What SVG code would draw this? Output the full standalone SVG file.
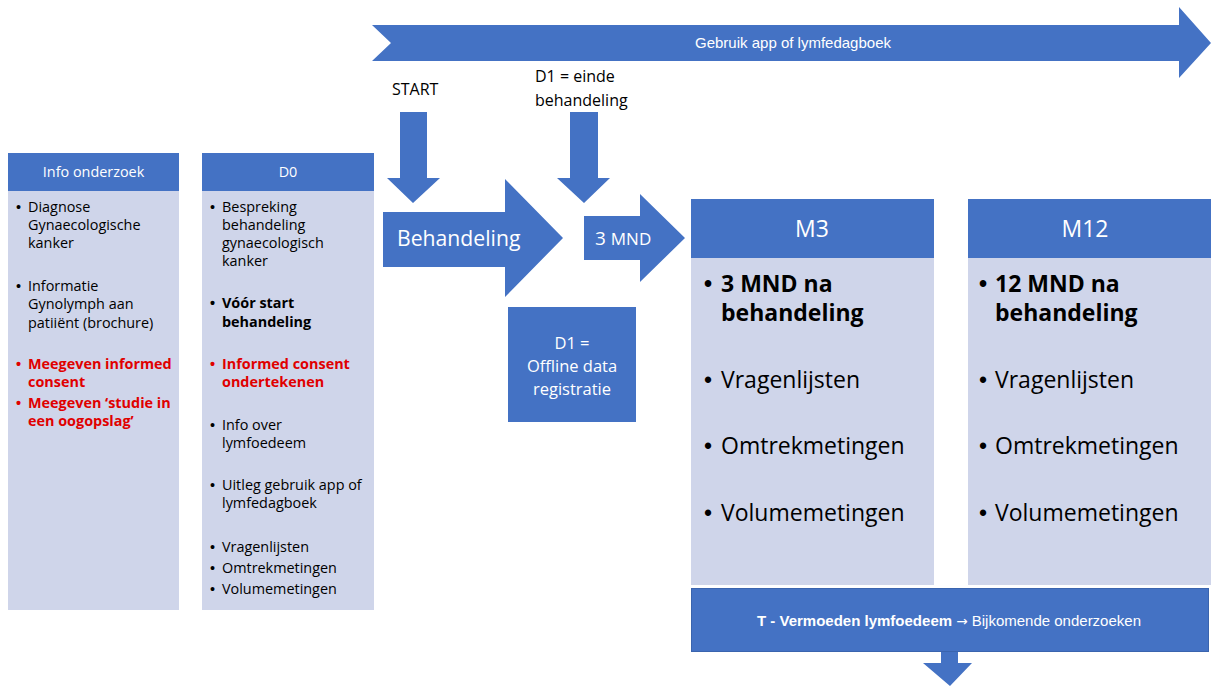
<svg xmlns="http://www.w3.org/2000/svg" width="1211" height="686" viewBox="0 0 1211 686">
<style>
.blue{fill:#4472C4}
.body{fill:#CFD5EA}
.t{font-family:"Open Sans",Lato,"Liberation Sans",sans-serif;fill:#000}
.s{font-size:14.4px}
.w{fill:#fff}
.r{fill:#E00000;font-weight:bold}
.b{font-weight:bold}
.d{font-family:"Liberation Sans",Arial,sans-serif}
.a{font-family:"Liberation Sans",Arial,sans-serif;fill:#fff}
.big{font-size:23px}
</style>
<rect width="1211" height="686" fill="#fff"/>
<g id="connectors">
<path id="banner" class="blue" d="M372,25 L1179,25 L1179,7 L1211,43 L1179,78 L1179,61 L372,61 L391,43 Z"/>
<path id="start-arrow" class="blue" d="M400,112 L427,112 L427,178 L440,178 L413,203 L387,178 L400,178 Z"/>
<path id="d1-arrow" class="blue" d="M570,112 L598,112 L598,178 L610,178 L584,203 L557,178 L570,178 Z"/>
<path id="mnd-arrow" class="blue" d="M584,216 L640,216 L640,194 L685,238 L640,282 L640,260 L584,260 Z"/>
<path id="down-arrow" class="blue" d="M941,652 L958,652 L958,663 L972,663 L950,686 L923,663 L941,663 Z"/>
</g>
<text class="a" x="793" y="48" font-size="15" text-anchor="middle">Gebruik app of lymfedagboek</text>
<text class="t" x="392" y="95" font-size="16">START</text>
<text class="t" x="535" y="82" font-size="16">D1 = einde</text>
<text class="t" x="535" y="106" font-size="16">behandeling</text>
<text class="t w" x="595" y="245" font-size="19">3 <tspan font-size="17">MND</tspan></text>

<g id="behandeling">
<path class="blue" d="M383,212 L505,212 L505,179 L563,238 L505,297 L505,267 L383,267 Z"/>
<text class="t w" x="397" y="246" font-size="21.2">Behandeling</text>
</g>

<g id="d1-box">
<rect class="blue" x="508" y="307" width="128" height="115"/>
<text class="t w" x="572" y="349" font-size="16.5" text-anchor="middle">D1 =</text>
<text class="t w" x="572" y="372" font-size="16.5" text-anchor="middle">Offline data</text>
<text class="t w" x="572" y="395" font-size="16.5" text-anchor="middle">registratie</text>
</g>

<g id="info-onderzoek">
<rect class="body" x="8" y="153" width="171" height="457"/>
<rect class="blue" x="8" y="153" width="171" height="38"/>
<text class="t w s" x="93.5" y="177" text-anchor="middle">Info onderzoek</text>
<g class="t s">
<text class="d" x="16" y="212">•</text>
<text x="28" y="212">Diagnose</text>
<text x="28" y="230">Gynaecologische</text>
<text x="28" y="248">kanker</text>
<text class="d" x="16" y="291">•</text>
<text x="28" y="291">Informatie</text>
<text x="28" y="309">Gynolymph aan</text>
<text x="28" y="328">patiiënt (brochure)</text>
<text class="r d" x="16" y="369">•</text>
<text class="r" x="28" y="369">Meegeven informed</text>
<text class="r" x="28" y="387">consent</text>
<text class="r d" x="16" y="408">•</text>
<text class="r" x="28" y="408">Meegeven ‘studie in</text>
<text class="r" x="28" y="426">een oogopslag’</text>
</g>
</g>

<g id="d0">
<rect class="body" x="202" y="153" width="172" height="457"/>
<rect class="blue" x="202" y="153" width="172" height="38"/>
<text class="t w s" x="288" y="177" text-anchor="middle">D0</text>
<g class="t s">
<text class="d" x="210" y="212">•</text>
<text x="222" y="212">Bespreking</text>
<text x="222" y="230">behandeling</text>
<text x="222" y="248">gynaecologisch</text>
<text x="222" y="266">kanker</text>
<text class="b d" x="210" y="308">•</text>
<text class="b" x="222" y="308">Vóór start</text>
<text class="b" x="222" y="327">behandeling</text>
<text class="r d" x="210" y="369">•</text>
<text class="r" x="222" y="369">Informed consent</text>
<text class="r" x="222" y="387">ondertekenen</text>
<text class="d" x="210" y="430">•</text>
<text x="222" y="430">Info over</text>
<text x="222" y="448">lymfoedeem</text>
<text class="d" x="210" y="490">•</text>
<text x="222" y="490">Uitleg gebruik app of</text>
<text x="222" y="508">lymfedagboek</text>
<text class="d" x="210" y="552">•</text>
<text x="222" y="552">Vragenlijsten</text>
<text class="d" x="210" y="573">•</text>
<text x="222" y="573">Omtrekmetingen</text>
<text class="d" x="210" y="594">•</text>
<text x="222" y="594">Volumemetingen</text>
</g>
</g>

<g id="m3">
<rect class="body" x="691" y="199" width="243" height="386"/>
<rect class="blue" x="691" y="199" width="243" height="59"/>
<text class="t w big" x="812" y="237" text-anchor="middle">M3</text>
<g class="t big">
<text class="b d" x="704" y="292">•</text>
<text class="b" x="721" y="292">3 MND na</text>
<text class="b" x="721" y="321">behandeling</text>
<text class="d" x="704" y="388">•</text>
<text x="721" y="388">Vragenlijsten</text>
<text class="d" x="704" y="454">•</text>
<text x="721" y="454">Omtrekmetingen</text>
<text class="d" x="704" y="521">•</text>
<text x="721" y="521">Volumemetingen</text>
</g>
</g>

<g id="m12">
<rect class="body" x="968" y="199" width="243" height="386"/>
<rect class="blue" x="968" y="199" width="243" height="59"/>
<text class="t w big" x="1085" y="237" text-anchor="middle">M12</text>
<g class="t big">
<text class="b d" x="979" y="292">•</text>
<text class="b" x="995" y="292">12 MND na</text>
<text class="b" x="995" y="321">behandeling</text>
<text class="d" x="979" y="388">•</text>
<text x="995" y="388">Vragenlijsten</text>
<text class="d" x="979" y="454">•</text>
<text x="995" y="454">Omtrekmetingen</text>
<text class="d" x="979" y="521">•</text>
<text x="995" y="521">Volumemetingen</text>
</g>
</g>

<g id="vermoeden">
<rect class="blue" x="691.5" y="588.5" width="517" height="63" stroke="#3A64AE" stroke-width="1"/>
<text class="a" x="949" y="626" font-size="15" text-anchor="middle"><tspan font-weight="bold">T - Vermoeden lymfoedeem</tspan> <tspan font-family="'DejaVu Sans',sans-serif" font-size="13.5">→</tspan> Bijkomende onderzoeken</text>
</g>
</svg>
